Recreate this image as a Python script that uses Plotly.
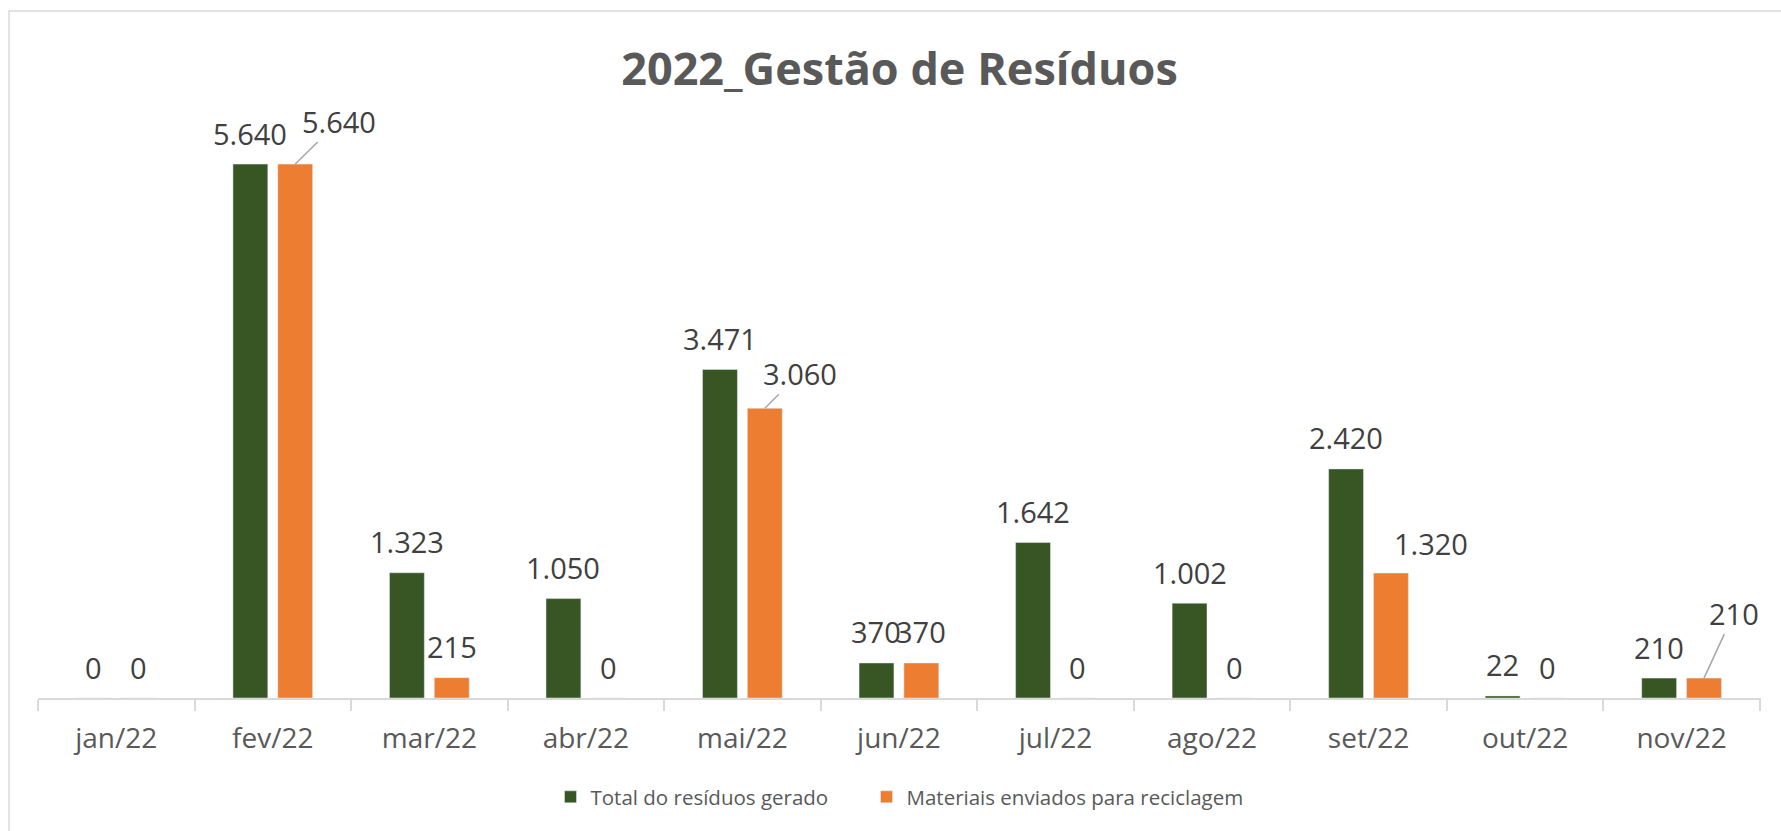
import plotly.graph_objects as go

meses = ["jan/22", "fev/22", "mar/22", "abr/22", "mai/22", "jun/22",
         "jul/22", "ago/22", "set/22", "out/22", "nov/22"]
total_residuos = [0, 5640, 1323, 1050, 3471, 370, 1642, 1002, 2420, 22, 210]
reciclagem = [0, 5640, 215, 0, 3060, 370, 0, 0, 1320, 0, 210]

VERDE = "#375623"
LARANJA = "#ED7D31"
FONTE = "Open Sans"

# rótulos deslocados (como no Excel): indice -> (dx, dy, linha guia)
rotulos_movidos = {1: (44, -43, True), 4: (35, -35, True),
                   8: (40, -30, False), 10: (30, -65, True)}


def fmt(v):
    return f"{v:,}".replace(",", ".")


fig = go.Figure()
fig.add_trace(go.Bar(x=meses, y=total_residuos, name="Total do resíduos gerado",
                     marker=dict(color=VERDE), hoverinfo="skip", legendwidth=271))
fig.add_trace(go.Bar(x=meses, y=reciclagem, name="Materiais enviados para reciclagem",
                     marker=dict(color=LARANJA), hoverinfo="skip"))

desl = 0.1433
anots = []
for i, v in enumerate(total_residuos):
    anots.append(dict(x=i - desl, y=v, text=fmt(v), showarrow=False,
                      yshift=31, yanchor="middle"))
for i, v in enumerate(reciclagem):
    if i in rotulos_movidos:
        dx, dy, linha = rotulos_movidos[i]
        if linha:
            anots.append(dict(x=i + desl, y=v, text=fmt(v), showarrow=True,
                              ax=dx, ay=dy, arrowhead=0, arrowwidth=1.5,
                              arrowcolor="#A6A6A6", standoff=0))
        else:
            anots.append(dict(x=i + desl, y=v, text=fmt(v), showarrow=False,
                              xshift=dx, yshift=-dy, yanchor="middle"))
    else:
        anots.append(dict(x=i + desl, y=v, text=fmt(v), showarrow=False,
                          yshift=31, yanchor="middle"))
for a in anots:
    a["font"] = dict(family=FONTE, size=29, color="#404040")

# borda do gráfico
borda = [dict(type="rect", xref="paper", yref="paper",
              x0=-0.0168, x1=1.05, y0=-0.4, y1=1.2095,
              line=dict(color="#D9D9D9", width=1.5))]

fig.update_layout(
    width=1781, height=831,
    margin=dict(l=38, r=20, t=130, b=133),
    plot_bgcolor="white", paper_bgcolor="white",
    separators=",.",
    barmode="group", bargap=0.427, bargroupgap=0.222,
    title=dict(text="<b>2022_Gestão de Resíduos</b>", x=0.5, xref="paper",
               xanchor="center", y=1 - 69 / 831, yref="container", yanchor="middle",
               font=dict(family=FONTE, size=45, color="#595959")),
    annotations=anots,
    shapes=borda,
    showlegend=True,
    legend=dict(orientation="h", x=0.5, xanchor="center", xref="paper",
                y=1 - 797 / 831, yref="container", yanchor="middle",
                font=dict(family=FONTE, size=20.5, color="#595959")),
    xaxis=dict(showline=True, linecolor="#D9D9D9", linewidth=1.5,
               ticks="outside", tickson="boundaries", ticklen=11,
               tickcolor="#D9D9D9", tickwidth=1.5, ticklabelstandoff=15,
               tickfont=dict(family=FONTE, size=28, color="#595959"),
               showgrid=False),
    yaxis=dict(range=[0, 6000], visible=False, showgrid=False),
)

fig.write_html("out.html", config={"displayModeBar": False},
               post_script="document.body.style.margin='0';")
